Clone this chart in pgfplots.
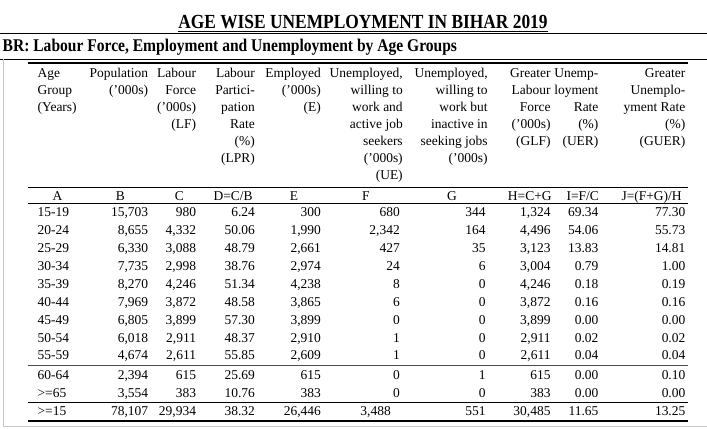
\documentclass[border=0pt]{standalone}
\usepackage{fontspec}
\setmainfont{Liberation Serif}
\newfontfamily\headfont{Liberation Serif}[FakeStretch=0.87]
\usepackage{pgfplots}
\usepackage{pgfplotstable}
\pgfplotsset{compat=1.18}
\newcommand\tabfont{\fontsize{13.5bp}{17bp}\selectfont}
\newcommand\hr[3]{\node[anchor=base east, inner sep=0pt, font=\tabfont] at (axis cs:#1,#2) {#3};}
\newcommand\hc[3]{\node[anchor=base, inner sep=0pt, font=\tabfont] at (axis cs:#1,#2) {#3};}
\newcommand\hlft[3]{\node[anchor=base west, inner sep=0pt, font=\tabfont] at (axis cs:#1,#2) {#3};}

\pgfplotstableread{
age y B C D E F G H I J
15-19 216.5 15,703 980 6.24 300 680 344 1,324 69.34 77.30
20-24 234.5 8,655 4,332 50.06 1,990 2,342 164 4,496 54.06 55.73
25-29 252.5 6,330 3,088 48.79 2,661 427 35 3,123 13.83 14.81
30-34 270.5 7,735 2,998 38.76 2,974 24 6 3,004 0.79 1.00
35-39 288.5 8,270 4,246 51.34 4,238 8 0 4,246 0.18 0.19
40-44 306.5 7,969 3,872 48.58 3,865 6 0 3,872 0.16 0.16
45-49 324.5 6,805 3,899 57.30 3,899 0 0 3,899 0.00 0.00
50-54 342.5 6,018 2,911 48.37 2,910 1 0 2,911 0.02 0.02
55-59 360.5 4,674 2,611 55.85 2,609 1 0 2,611 0.04 0.04
60-64 380.5 2,394 615 25.69 615 0 1 615 0.00 0.10
>=65 398.5 3,554 383 10.76 383 0 0 383 0.00 0.00
>=15 416.5 78,107 29,934 38.32 26,446 3,488 551 30,485 11.65 13.25
}\datatab

\begin{document}
\begin{tikzpicture}
\begin{axis}[width=707bp, height=429bp, scale only axis,
  xmin=0, xmax=707, ymin=0, ymax=429, y dir=reverse,
  hide axis, clip=false,
  col/.style={draw=none, mark=none, nodes near coords, point meta=explicit symbolic,
    nodes near coords style={anchor=base east, inner sep=0pt, font=\tabfont, text=black}},
  coll/.style={draw=none, mark=none, nodes near coords, point meta=explicit symbolic,
    nodes near coords style={anchor=base west, inner sep=0pt, font=\tabfont, text=black}},
]
\path (axis cs:0,0) rectangle (axis cs:707,429);

% title and subtitle
\node[anchor=base, inner sep=0pt, font=\headfont\bfseries\fontsize{20bp}{22bp}\selectfont] (t) at (axis cs:363,28.6) {AGE WISE UNEMPLOYMENT IN BIHAR 2019};
\draw[line width=1.1bp] ([yshift=-2.6bp]t.base west) -- ([yshift=-2.6bp]t.base east);
\draw[line width=1bp] (axis cs:0,33.8) -- (axis cs:707,33.8);
\node[anchor=base west, inner sep=0pt, font=\headfont\bfseries\fontsize{17.9bp}{20bp}\selectfont] at (axis cs:2,51.9) {BR: Labour Force, Employment and Unemployment by Age Groups};
\draw[line width=1bp] (axis cs:0,59.5) -- (axis cs:707,59.5);

% frame lines
\draw[line width=1bp, black!22] (axis cs:3,59.5) -- (axis cs:3,427) -- (axis cs:707,427);

% table rules
\draw[line width=2bp] (axis cs:28,62.8) -- (axis cs:688,62.8);
\draw[line width=0.8bp] (axis cs:28,188) -- (axis cs:688,188);
\draw[line width=0.8bp] (axis cs:28,203.5) -- (axis cs:688,203.5);
\draw[line width=0.6bp, black!70] (axis cs:28,366) -- (axis cs:688,366);
\draw[line width=1bp] (axis cs:28,403) -- (axis cs:688,403);
\draw[line width=2bp] (axis cs:28,421.5) -- (axis cs:688,421.5);

% header text
\hlft{37}{77.5}{Age}\hlft{37}{94.5}{Group}\hlft{37}{111.5}{(Years)}
\hr{148}{77.5}{Population}\hr{148}{94.5}{('000s)}
\hr{196}{77.5}{Labour}\hr{196}{94.5}{Force}\hr{196}{111.5}{('000s)}\hr{196}{128.5}{(LF)}
\hr{255}{77.5}{Labour}\hr{255}{94.5}{Partici-}\hr{255}{111.5}{pation}\hr{255}{128.5}{Rate}\hr{255}{145.5}{(\%)}\hr{255}{162.5}{(LPR)}
\hr{321}{77.5}{Employed}\hr{321}{94.5}{('000s)}\hr{321}{111.5}{(E)}
\hr{403}{77.5}{Unemployed,}\hr{403}{94.5}{willing to}\hr{403}{111.5}{work and}\hr{403}{128.5}{active job}\hr{403}{145.5}{seekers}\hr{403}{162.5}{('000s)}\hr{403}{179.5}{(UE)}
\hr{488}{77.5}{Unemployed,}\hr{488}{94.5}{willing to}\hr{488}{111.5}{work but}\hr{488}{128.5}{inactive in}\hr{488}{145.5}{seeking jobs}\hr{488}{162.5}{('000s)}
\hr{551}{77.5}{Greater}\hr{551}{94.5}{Labour}\hr{551}{111.5}{Force}\hr{551}{128.5}{('000s)}\hr{551}{145.5}{(GLF)}
\hr{599}{77.5}{Unemp-}\hr{599}{94.5}{loyment}\hr{599}{111.5}{Rate}\hr{599}{128.5}{(\%)}\hr{599}{145.5}{(UER)}
\hr{686}{77.5}{Greater}\hr{686}{94.5}{Unemplo-}\hr{686}{111.5}{yment Rate}\hr{686}{128.5}{(\%)}\hr{686}{145.5}{(GUER)}

% letter row
\hc{57}{200.5}{A}\hc{120}{200.5}{B}\hc{179}{200.5}{C}\hc{233}{200.5}{D=C/B}\hc{294}{200.5}{E}
\hc{366}{200.5}{F}\hc{452}{200.5}{G}\hc{530}{200.5}{H=C+G}\hc{583}{200.5}{I=F/C}\hc{652}{200.5}{J=(F+G)/H}

% data
\addplot[coll] table[x expr=37, y=y, meta=age] {\datatab};
\addplot[col] table[x expr=148, y=y, meta=B] {\datatab};
\addplot[col] table[x expr=196, y=y, meta=C] {\datatab};
\addplot[col] table[x expr=255, y=y, meta=D] {\datatab};
\addplot[col] table[x expr=321, y=y, meta=E] {\datatab};
\addplot[col] table[x expr={\coordindex==11 ? 391 : 400}, y=y, meta=F] {\datatab};
\addplot[col] table[x expr=486, y=y, meta=G] {\datatab};
\addplot[col] table[x expr=551, y=y, meta=H] {\datatab};
\addplot[col] table[x expr=599, y=y, meta=I] {\datatab};
\addplot[col] table[x expr=686, y=y, meta=J] {\datatab};
\end{axis}
\end{tikzpicture}
\end{document}
